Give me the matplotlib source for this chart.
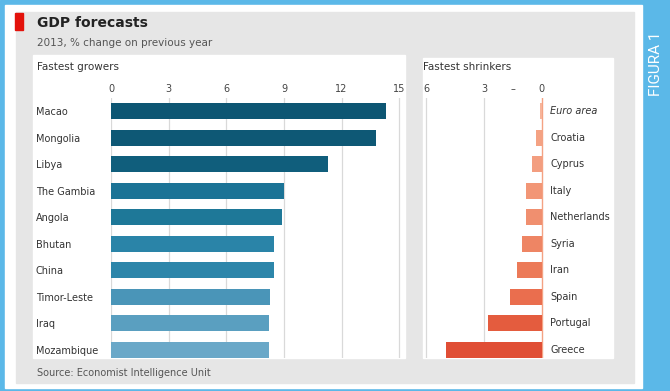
import matplotlib
matplotlib.use("Agg")
import matplotlib.pyplot as plt
from matplotlib.patches import Rectangle

# Daten, BIP-Prognose 2013, % Veränderung zum Vorjahr
growers = ["Macao", "Mongolia", "Libya", "The Gambia", "Angola",
           "Bhutan", "China", "Timor-Leste", "Iraq", "Mozambique"]
growers_val = [14.3, 13.8, 11.3, 9.0, 8.9, 8.5, 8.5, 8.3, 8.2, 8.2]

shrinkers = ["Euro area", "Croatia", "Cyprus", "Italy", "Netherlands",
             "Syria", "Iran", "Spain", "Portugal", "Greece"]
shrinkers_val = [-0.1, -0.3, -0.5, -0.8, -0.8, -1.05, -1.3, -1.65, -2.8, -5.0]

left_ticks = [0, 3, 6, 9, 12, 15]
right_ticks = [-6, -3, -1.5, 0]
right_ticklabels = ["6", "3", "–", "0"]

blues = ["#0d5673", "#0e5875", "#105e7c", "#1b7396", "#1e7898",
         "#2a84a8", "#2d86aa", "#4a95b8", "#5a9fc0", "#6aa8c8"]
reds = ["#f7b49a", "#f4a283", "#f39e80", "#f29676", "#f08f6f",
        "#ee8564", "#ec7a58", "#ea6e4e", "#e45c3e", "#e04e35"]

W, H = 670, 391
fig = plt.figure(figsize=(6.7, 3.91), dpi=100)
fig.patch.set_facecolor("white")


def fx(px):
    return px / W


def fy(py):
    return 1 - py / H


def rect(x0, y0, x1, y1, color):
    fig.patches.append(Rectangle((fx(x0), fy(y1)), fx(x1) - fx(x0), fy(y0) - fy(y1),
                                 transform=fig.transFigure, color=color, zorder=-10))


# Rahmen
blue = "#5bb8e8"
rect(0, 0, W, H, blue)
rect(5, 5, 642, 388, "white")
rect(16, 12, 634, 383, "#e6e6e6")
rect(33, 55, 405, 358, "white")
rect(423, 58, 613, 358, "white")
rect(15, 13, 23, 30, "#e3120b")

fig.text(fx(656), fy(64), "FIGURA 1", rotation=90, color="white",
         fontsize=11, ha="center", va="center", family="Roboto")

txt = "#333333"
fig.text(fx(37), fy(23), "GDP forecasts", fontsize=10, fontweight="bold",
         color="#222222", va="center")
fig.text(fx(37), fy(43), "2013, % change on previous year", fontsize=7.5,
         color="#555555", va="center")
fig.text(fx(37), fy(67), "Fastest growers", fontsize=7.5, color=txt, va="center")
fig.text(fx(423), fy(67), "Fastest shrinkers", fontsize=7.5, color=txt, va="center")
fig.text(fx(37), fy(373), "Source: Economist Intelligence Unit", fontsize=7,
         color="#555555", va="center")

# linkes Diagramm
ax1 = fig.add_axes([fx(111), fy(358), (405 - 111) / W, (358 - 98) / H])
ax1.set_facecolor("none")
ypos = list(range(len(growers)))
ax1.barh(ypos, growers_val, height=0.62, color=blues, zorder=3)
ax1.set_xlim(0, 15.3)
ax1.set_ylim(9.31, -0.5)
ax1.set_xticks(left_ticks)
ax1.xaxis.tick_top()
ax1.set_yticks(ypos)
ax1.set_yticklabels(growers, ha="left")
ax1.tick_params(axis="y", length=0, pad=54, labelsize=7, labelcolor=txt)
ax1.tick_params(axis="x", length=0, pad=3, labelsize=7, labelcolor="#444444")
ax1.grid(axis="x", color="#d9d9d9", linewidth=0.9, zorder=0)
ax1.set_axisbelow(True)
for s in ax1.spines.values():
    s.set_visible(False)

# rechtes Diagramm
ax2 = fig.add_axes([fx(423), fy(358), (613 - 423) / W, (358 - 98) / H])
ax2.set_facecolor("none")
ax2.barh(ypos, shrinkers_val, height=0.62, color=reds, zorder=3)
ax2.axvline(0, color="#f4a283", linewidth=1, zorder=2)
ax2.set_xlim(-6.18, 3.71)
ax2.set_ylim(9.31, -0.5)
ax2.set_xticks(right_ticks)
ax2.set_xticklabels(right_ticklabels)
ax2.xaxis.tick_top()
ax2.set_yticks([])
ax2.tick_params(axis="x", length=0, pad=3, labelsize=7, labelcolor="#444444")
for t in [-6, -3]:
    ax2.axvline(t, color="#d9d9d9", linewidth=0.9, zorder=0)
for i, name in enumerate(shrinkers):
    ax2.text(0.45, i, name, fontsize=7, color=txt, va="center", ha="left",
             style="italic" if name == "Euro area" else "normal")
for s in ax2.spines.values():
    s.set_visible(False)

fig.savefig("out.png", dpi=100)
